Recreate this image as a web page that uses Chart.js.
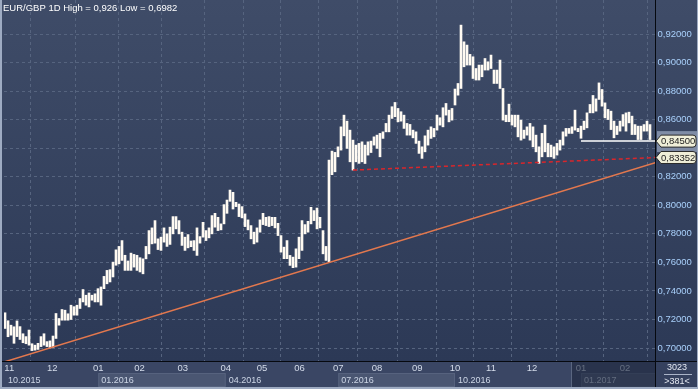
<!DOCTYPE html>
<html>
<head>
<meta charset="utf-8">
<script src="https://cdn.jsdelivr.net/npm/chart.js@4.4.0/dist/chart.umd.min.js"></script>
<style>
  html, body { margin: 0; padding: 0; background: #2b3753; }
  #wrap { width: 698px; height: 389px; }
</style>
</head>
<body>
<div id="wrap"><canvas id="chartEurGbp" width="698" height="389"></canvas></div>
<script>
// daily bars (high / low)
const highs = [
  0.7247,0.7191,0.716,0.7149,0.719,0.715,0.710,0.708,0.7126,0.703,
  0.702,0.7033,0.708,0.710,0.7045,0.705,0.7084,0.7242,0.7207,0.727,
  0.7265,0.724,0.730,0.729,0.730,0.7347,0.741,0.737,0.7386,0.737,
  0.738,0.7416,0.7428,0.7502,0.7544,0.7549,0.7602,0.7688,0.7712,0.7753,
  0.765,0.761,0.7665,0.7656,0.765,0.7633,0.7625,0.7712,0.7823,0.7842,
  0.7893,0.7765,0.7777,0.7842,0.780,0.7847,0.7921,0.7921,0.7893,0.7812,
  0.7777,0.7795,0.775,0.7753,0.7842,0.7781,0.7881,0.7823,0.7842,0.7928,
  0.7944,0.7916,0.787,0.8005,0.8037,0.8107,0.8091,0.8021,0.8009,0.7991,
  0.794,0.7898,0.7858,0.7812,0.7842,0.7898,0.7944,0.7916,0.7921,0.7916,
  0.7916,0.7874,0.7788,0.7707,0.7753,0.7649,0.7637,0.7695,0.7777,0.7893,
  0.7865,0.7888,0.7986,0.7963,0.7981,0.7916,0.7823,0.7712,0.8317,0.838,
  0.8371,0.841,0.855,0.8632,0.859,0.8527,0.8457,0.8422,0.8434,0.8445,
  0.8422,0.8445,0.845,0.848,0.8492,0.8504,0.8515,0.8574,0.8632,0.8691,
  0.8721,0.8679,0.8656,0.8632,0.8574,0.8567,0.8527,0.8515,0.845,0.841,
  0.8487,0.8527,0.855,0.8539,0.8632,0.8614,0.8684,0.8714,0.8667,0.8679,
  0.8815,0.8854,0.9263,0.9146,0.9123,0.9058,0.9041,0.8959,0.8983,0.8983,
  0.9029,0.9006,0.9053,0.8948,0.8948,0.9018,0.8819,0.8632,0.8709,0.8632,
  0.8632,0.8632,0.8597,0.8527,0.855,0.8574,0.855,0.8492,0.841,0.8504,
  0.8562,0.8434,0.8422,0.841,0.8434,0.8457,0.8515,0.8539,0.8539,0.855,
  0.8667,0.8539,0.8555,0.859,0.8648,0.8707,0.877,0.8746,0.8858,0.8812,
  0.8718,0.8672,0.866,0.859,0.8555,0.859,0.8636,0.8648,0.8653,0.8625,
  0.8566,0.8555,0.8555,0.8566,0.859,0.8566
];
const lows = [
  0.7137,0.7079,0.709,0.7033,0.708,0.706,0.7037,0.703,0.702,0.6982,
  0.6985,0.699,0.701,0.702,0.701,0.700,0.7005,0.7067,0.716,0.7195,
  0.7195,0.7195,0.720,0.723,0.723,0.7277,0.7323,0.730,0.7288,0.7335,
  0.7323,0.7323,0.730,0.7416,0.745,0.7463,0.7498,0.758,0.759,0.7614,
  0.7544,0.7544,0.7544,0.7567,0.7544,0.7533,0.752,0.7625,0.766,0.773,
  0.7735,0.769,0.7684,0.7742,0.7712,0.7726,0.780,0.7835,0.780,0.7719,
  0.7684,0.7702,0.771,0.7684,0.7649,0.7735,0.7777,0.7753,0.7772,0.780,
  0.7847,0.7823,0.7828,0.787,0.7944,0.8028,0.7974,0.7991,0.7921,0.7912,
  0.7851,0.7828,0.7765,0.773,0.7742,0.7812,0.7865,0.7858,0.7851,0.7858,
  0.7842,0.7788,0.7672,0.7626,0.7626,0.7579,0.7563,0.7567,0.7626,0.7684,
  0.780,0.7812,0.787,0.7893,0.7835,0.7842,0.766,0.7614,0.7605,0.8215,
  0.8235,0.834,0.8387,0.8487,0.8399,0.8305,0.8247,0.8305,0.8294,0.8305,
  0.8293,0.8352,0.837,0.8422,0.8399,0.834,0.8469,0.8515,0.8515,0.8609,
  0.8621,0.8585,0.859,0.8539,0.8492,0.8492,0.8473,0.8434,0.8364,0.8329,
  0.8375,0.8422,0.8469,0.848,0.8527,0.8562,0.855,0.8632,0.8585,0.8597,
  0.8703,0.8772,0.8819,0.8971,0.8983,0.8983,0.8889,0.8878,0.8878,0.8901,
  0.8948,0.8948,0.8959,0.8854,0.8854,0.8819,0.8597,0.8586,0.8586,0.8562,
  0.855,0.848,0.8457,0.8469,0.8492,0.8457,0.841,0.8375,0.8294,0.834,
  0.8375,0.834,0.834,0.8329,0.8352,0.8387,0.8422,0.8485,0.8504,0.8504,
  0.8527,0.8516,0.847,0.8531,0.8543,0.8648,0.8648,0.866,0.8742,0.8695,
  0.8613,0.8601,0.8531,0.8473,0.8496,0.852,0.8555,0.852,0.8578,0.8496,
  0.8496,0.8461,0.8461,0.852,0.852,0.8461
];

// month grid (bar index where each month starts)
const monthPos = [1.43, 15.77, 31.1, 44.83, 59.27, 73.57, 85.67, 98.17, 111.1, 124, 137.43, 150, 162, 175.67, 192, 206.67];
const monthLabels = ['11','12','01','02','03','04','05','06','07','08','09','10','11','12','01','02'];
const quarterPos = [-0.33, 31.1, 73.57, 111.1, 150, 192];
const quarterLabels = ['10.2015','01.2016','04.2016','07.2016','10.2016','01.2017'];
const dimFrom = 188.67;

const yTicks = [0.70, 0.72, 0.74, 0.76, 0.78, 0.80, 0.82, 0.84, 0.86, 0.88, 0.90, 0.92];

// drawn lines
const trendLine = [{x: -0.33, y: 0.6902}, {x: 217, y: 0.8300}];
const supportLine = [{x: 116, y: 0.8247}, {x: 217, y: 0.8335}];
const levelLine = [{x: 192, y: 0.845}, {x: 217, y: 0.845}];
const levelTag = 0.845;
const supportTag = 0.83352;

const titleText = 'EUR/GBP 1D High = 0,926 Low = 0,6982';
const boxTop = '3023';
const boxBottom = '>381<';

const FONT = '"Liberation Sans", Arial, sans-serif';

function priceText(v) {
  return v.toFixed(5).replace('.', ',');
}

function drawTag(ctx, y, text) {
  ctx.beginPath();
  ctx.moveTo(656, y);
  ctx.lineTo(661, y - 6);
  ctx.lineTo(693, y - 6);
  ctx.quadraticCurveTo(696, y - 6, 696, y - 3);
  ctx.lineTo(696, y + 3);
  ctx.quadraticCurveTo(696, y + 6, 693, y + 6);
  ctx.lineTo(661, y + 6);
  ctx.closePath();
  ctx.fillStyle = '#efeed8';
  ctx.fill();
  ctx.strokeStyle = '#2a2a2a';
  ctx.lineWidth = 1;
  ctx.stroke();
  ctx.fillStyle = '#1c1c1c';
  ctx.font = '9.5px ' + FONT;
  ctx.textAlign = 'left';
  ctx.textBaseline = 'middle';
  ctx.fillText(text, 661, y + 0.5);
}

const chartFrame = {
  id: 'chartFrame',
  beforeDraw(chart) {
    const ctx = chart.ctx;
    const a = chart.chartArea;
    const W = chart.width, H = chart.height;
    const xs = chart.scales.x;
    ctx.save();
    const g = ctx.createLinearGradient(0, 0, 0, a.bottom);
    g.addColorStop(0, '#3f4c68');
    g.addColorStop(1, '#2c3956');
    ctx.fillStyle = g;
    ctx.fillRect(0, 0, W, a.bottom);
    ctx.fillStyle = '#3a4664';
    ctx.fillRect(0, a.bottom, W, H - a.bottom);
    for (let q = 1; q < quarterPos.length; q += 2) {
      const x0 = xs.getPixelForValue(quarterPos[q]);
      const x1 = q + 1 < quarterPos.length ? xs.getPixelForValue(quarterPos[q + 1]) : a.right;
      ctx.fillStyle = '#4a5672';
      ctx.fillRect(x0, a.bottom + 12, x1 - x0, 14);
      ctx.strokeStyle = '#56627e';
      ctx.strokeRect(x0 + 0.5, a.bottom + 12.5, x1 - x0 - 1, 13);
    }
    ctx.restore();
  },
  afterDraw(chart) {
    const ctx = chart.ctx;
    const a = chart.chartArea;
    const W = chart.width, H = chart.height;
    const xs = chart.scales.x, ys = chart.scales.y;
    ctx.save();

    // quarter row
    ctx.font = '9px ' + FONT;
    ctx.fillStyle = '#cdd6e6';
    ctx.textAlign = 'left';
    ctx.textBaseline = 'middle';
    quarterLabels.forEach(function (lab, q) {
      const px = Math.max(xs.getPixelForValue(quarterPos[q]), 5);
      ctx.fillText(lab, px + 3, a.bottom + 19.5);
    });

    // dimmed tail of the time axis
    const dx = Math.round(xs.getPixelForValue(dimFrom));
    ctx.fillStyle = 'rgba(30, 40, 62, 0.62)';
    ctx.fillRect(dx, a.bottom + 1, a.right - dx, H - a.bottom - 2);
    ctx.fillStyle = '#5a6680';
    ctx.fillRect(dx, a.bottom + 1, 1, H - a.bottom - 2);

    // bottom right counter box
    ctx.fillStyle = '#35415e';
    ctx.fillRect(a.right, a.bottom, W - a.right, H - a.bottom);
    ctx.fillStyle = '#e4e9f2';
    ctx.font = '9px ' + FONT;
    ctx.textAlign = 'center';
    ctx.fillText(boxTop, 677, a.bottom + 7);
    ctx.fillText(boxBottom, 677, a.bottom + 20.5);
    ctx.fillStyle = '#aab4c8';
    ctx.fillRect(664, a.bottom + 13, 28, 1);

    // separators and frame
    ctx.fillStyle = '#06090f';
    ctx.fillRect(a.right - 1, 0, 1, H);
    ctx.fillRect(0, a.bottom, W, 1);
    ctx.fillStyle = '#9eabc2';
    ctx.fillRect(0, 0, 2, H);
    ctx.fillRect(0, H - 2, W, 2);
    ctx.fillRect(W - 1, 0, 1, H);

    // price tags
    const yl = ys.getPixelForValue(levelTag);
    ctx.fillStyle = '#7f8ca6';
    ctx.fillRect(657, yl - 10, 40, 21);
    drawTag(ctx, yl, priceText(levelTag));
    drawTag(ctx, ys.getPixelForValue(supportTag), priceText(supportTag));

    // title
    ctx.font = '9.5px ' + FONT;
    ctx.fillStyle = '#ffffff';
    ctx.textAlign = 'left';
    ctx.textBaseline = 'middle';
    ctx.fillText(titleText, 3, 8);
    ctx.restore();
  }
};

const bars = highs.map(function (h, i) {
  return { x: i, y: [lows[i], h] };
});

const chart = new Chart('chartEurGbp', {
  type: 'bar',
  data: {
    datasets: [
      {
        type: 'line',
        label: 'Trend',
        data: trendLine,
        borderColor: '#e3784e',
        borderWidth: 1.5,
        pointRadius: 0,
        order: 1,
      },
      {
        type: 'line',
        label: 'Support',
        data: supportLine,
        borderColor: '#d9262b',
        borderWidth: 1.5,
        borderDash: [4, 3],
        pointRadius: 0,
        order: 1,
      },
      {
        type: 'line',
        label: 'Level',
        data: levelLine,
        borderColor: '#ffffff',
        borderWidth: 1.5,
        pointRadius: 0,
        order: 1,
      },
      {
        label: 'EUR/GBP',
        data: bars,
        backgroundColor: '#fffaf2',
        borderWidth: 0,
        barThickness: 2,
        order: 10,
      },
    ],
  },
  options: {
    responsive: false,
    animation: false,
    layout: { padding: { left: 4, top: 0, right: 0, bottom: 0 } },
    plugins: {
      legend: { display: false },
      tooltip: { enabled: false },
    },
    scales: {
      x: {
        type: 'linear',
        min: -1 / 3,
        max: 217,
        offset: false,
        grid: { color: '#56647f', drawTicks: false, lineWidth: 1 },
        border: { display: false, dash: [3, 3] },
        afterBuildTicks: function (scale) {
          scale.ticks = monthPos.map(function (v) { return { value: v }; });
        },
        afterFit: function (scale) {
          scale.height = 28;
          scale.paddingLeft = 0;
          scale.paddingRight = 0;
        },
        ticks: {
          autoSkip: false,
          maxRotation: 0,
          padding: 2,
          color: '#d4dcea',
          font: { family: FONT, size: 9.5 },
          callback: function (v, idx) { return monthLabels[idx]; },
        },
      },
      y: {
        position: 'right',
        min: 0.6909,
        max: 0.9439,
        grid: { color: '#56647f', drawTicks: false, lineWidth: 1 },
        border: { display: false, dash: [3, 3] },
        afterBuildTicks: function (scale) {
          scale.ticks = yTicks.map(function (v) { return { value: v }; });
        },
        afterFit: function (scale) {
          scale.width = 42;
          scale.paddingTop = 0;
          scale.paddingBottom = 0;
        },
        ticks: {
          padding: 1.5,
          color: '#a9d0fb',
          font: { family: FONT, size: 9.5 },
          callback: function (v) { return priceText(v); },
        },
      },
    },
  },
  plugins: [chartFrame],
});
</script>
</body>
</html>
